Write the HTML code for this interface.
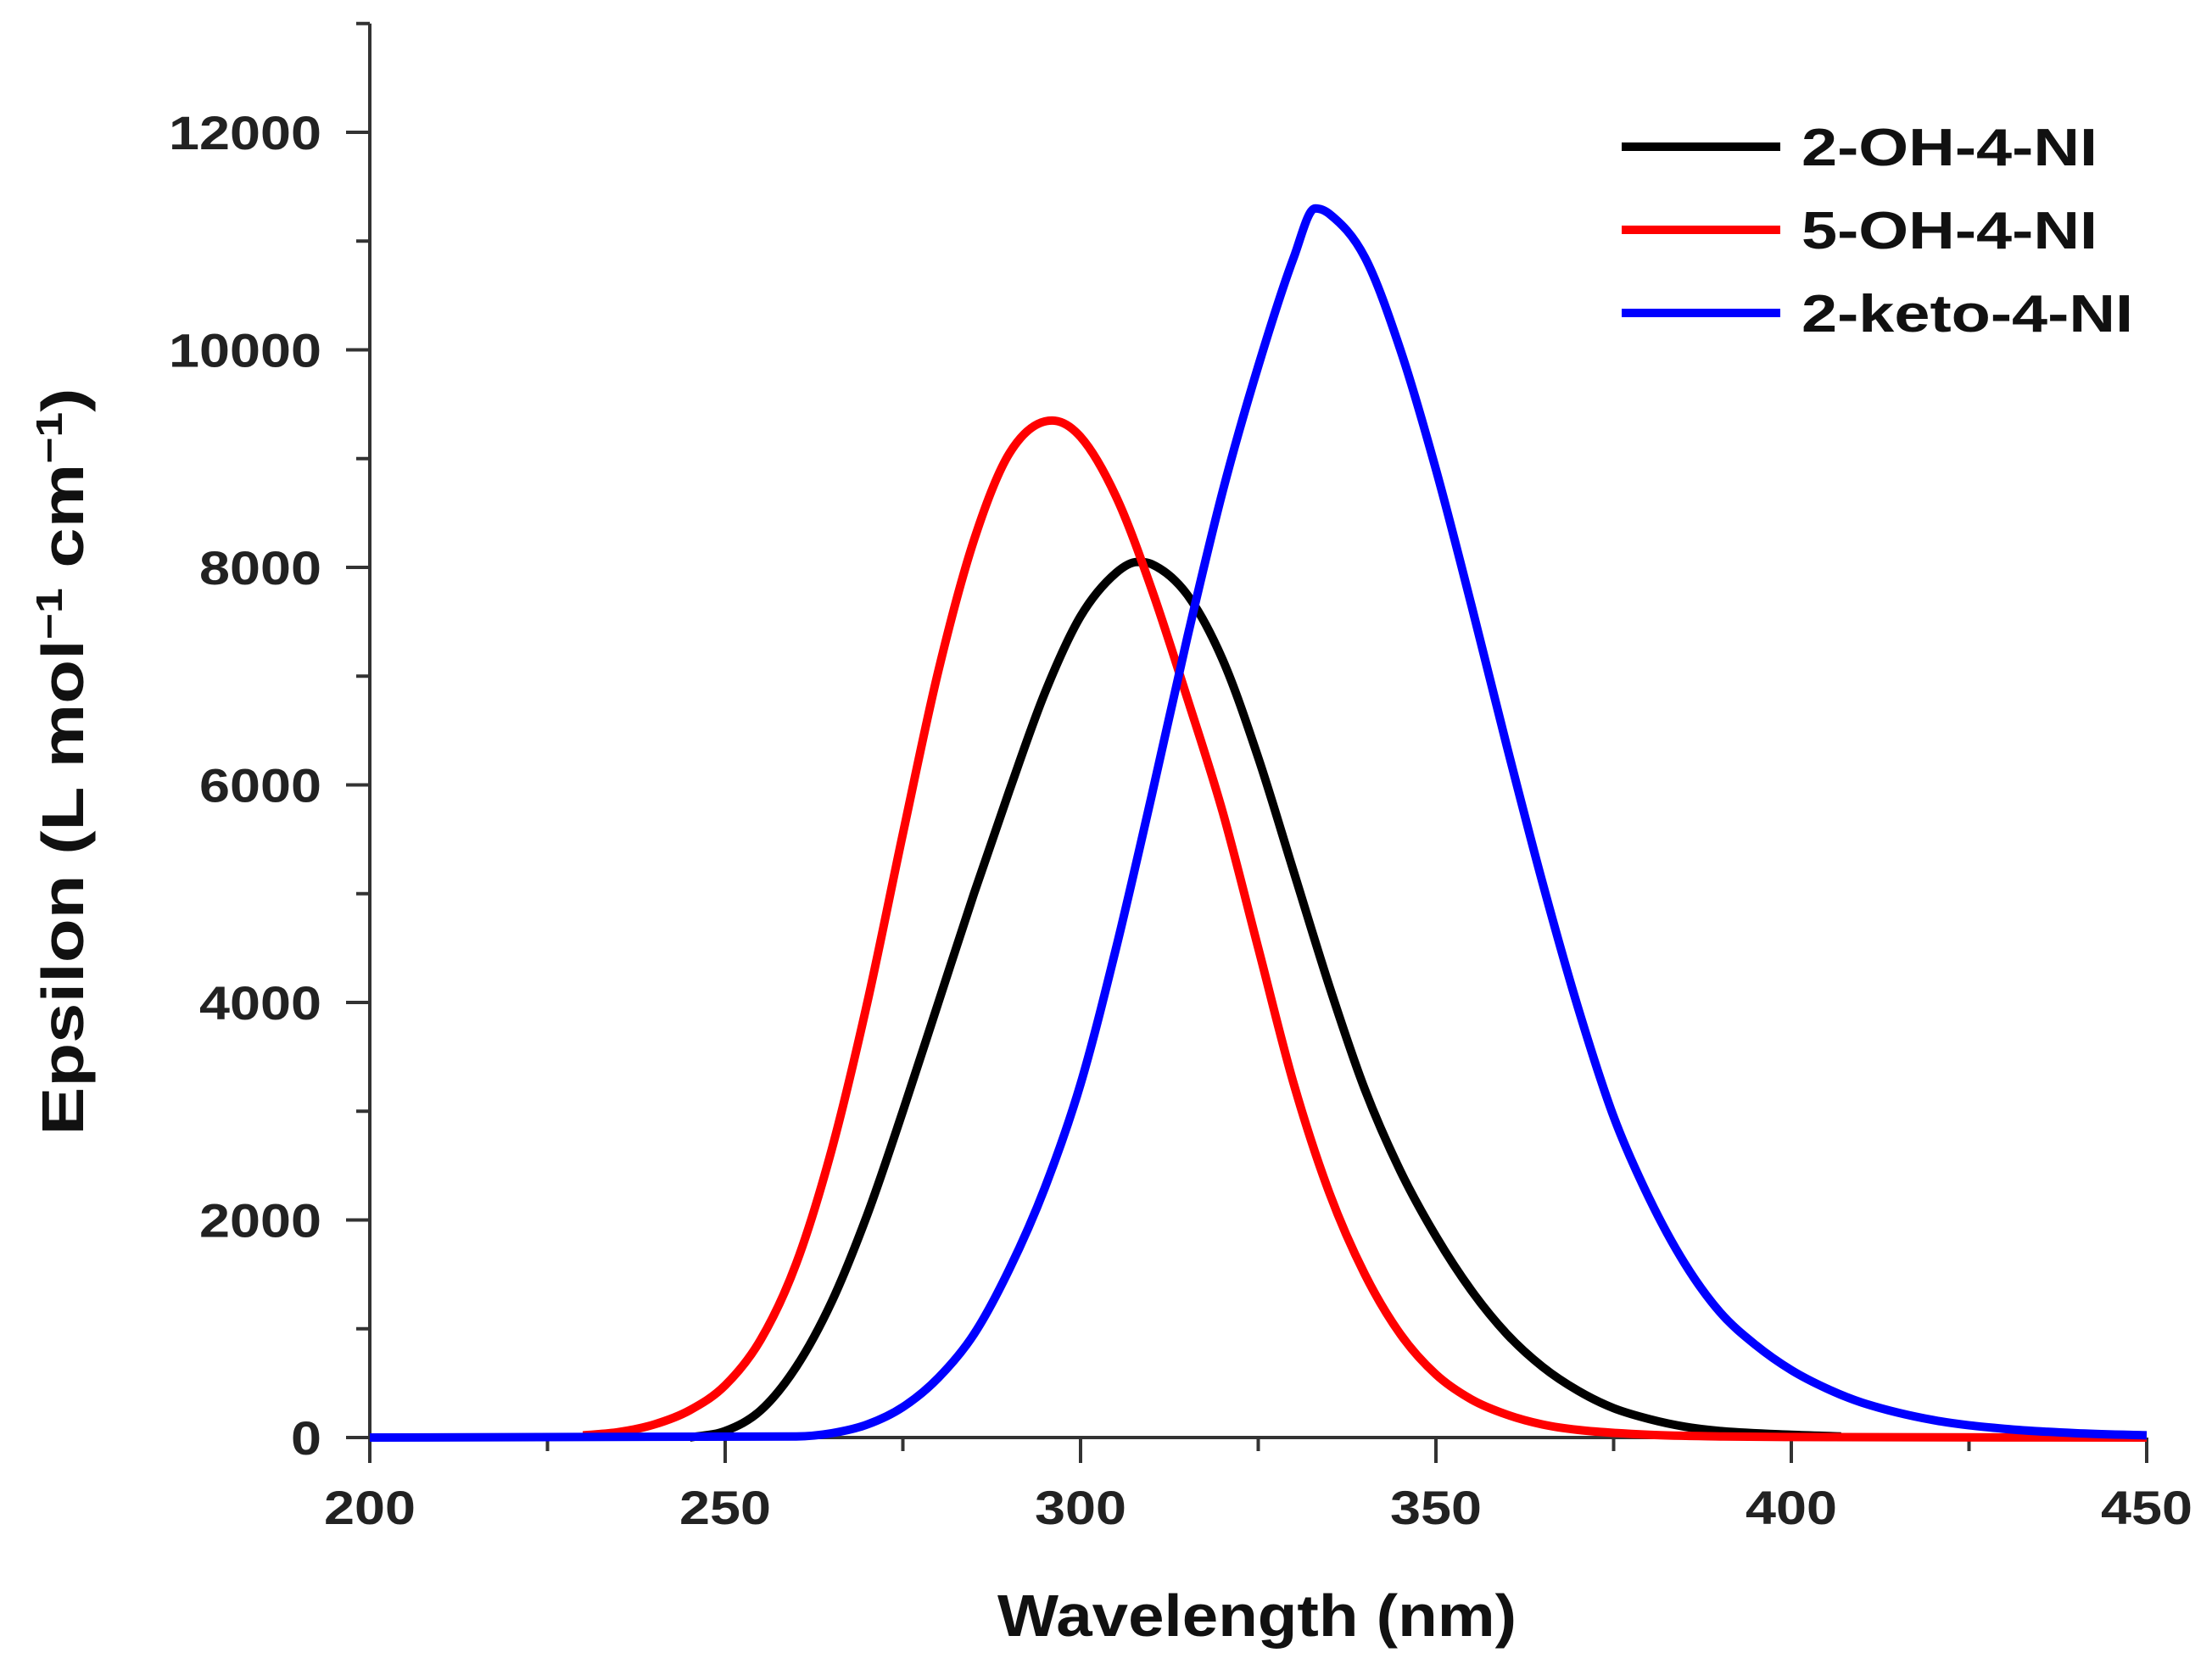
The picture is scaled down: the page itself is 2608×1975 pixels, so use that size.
<!DOCTYPE html>
<html><head><meta charset="utf-8"><style>
html,body{margin:0;padding:0;background:#fff}
svg{display:block}
text{font-family:"Liberation Sans",Arial,sans-serif;font-weight:bold}
</style></head><body>
<svg id="chart" width="2608" height="1975" viewBox="0 0 2608 1975">
<g id="axes"></g>
<g id="series"></g>
<g id="legend"></g>
<text x="1482" y="1929" font-size="70" text-anchor="middle" fill="#111" textLength="612" lengthAdjust="spacingAndGlyphs">Wavelength (nm)</text>
<text transform="translate(98,898) rotate(-90)" font-size="70" text-anchor="middle" fill="#111" textLength="881" lengthAdjust="spacingAndGlyphs">Epsilon (L mol<tspan font-size="44" dy="-25">−1</tspan><tspan dy="25"> cm</tspan><tspan font-size="44" dy="-25">−1</tspan><tspan dy="25">)</tspan></text>
</svg>
<script>
const xTicks=[200,250,300,350,400,450];
const yTicks=[0,2000,4000,6000,8000,10000,12000];
const seriesNames=["2-OH-4-NI","5-OH-4-NI","2-keto-4-NI"];
const seriesColors=["#000000","#ff0000","#0000ff"];
const blackX=[245,250,255,260,265,270,275,280,285,290,295,300,305,308,310,315,320,325,330,335,340,345,350,355,360,365,370,375,380,385,390,400,407];
const blackY=[0,60,250,650,1250,2050,3000,4000,5000,5950,6850,7550,7950,8050,8030,7750,7150,6250,5200,4150,3200,2450,1850,1350,950,650,430,270,170,100,60,25,10];
const redX=[230,235,240,245,250,255,260,265,270,275,280,285,290,296,300,305,310,315,320,325,330,335,340,345,350,355,360,365,370,380,390,400,450];
const redY=[20,50,120,250,480,900,1600,2650,4000,5550,7050,8250,9050,9350,9200,8650,7800,6800,5750,4500,3250,2250,1500,950,580,350,210,120,70,25,10,5,0];
const blueX=[200,260,265,270,275,280,285,290,295,300,305,310,315,320,325,330,333,335,340,345,350,355,360,365,370,375,380,385,390,395,400,405,410,420,430,440,450];
const blueY=[0,10,40,120,280,550,950,1550,2300,3250,4500,5900,7350,8700,9850,10850,11300,11250,10850,10000,8900,7650,6350,5100,3950,2950,2200,1600,1150,850,620,450,320,160,80,40,20];

const NS="http://www.w3.org/2000/svg";
const X0=436,X1=2531,Y0=1695,Ypx=256.5/2000;
function sx(v){return X0+(v-200)*(X1-X0)/250;}
function sy(v){return Y0-v*Ypx;}
function mk(tag,attrs,parent){const e=document.createElementNS(NS,tag);for(const k in attrs)e.setAttribute(k,attrs[k]);parent.appendChild(e);return e;}
const axes=document.getElementById('axes');
let e=mk('line',{x1:X0,y1:sy(13000),x2:X0,y2:Y0,stroke:'#333','stroke-width':4},axes);


e=mk('line',{x1:X0,y1:Y0,x2:X1,y2:Y0,stroke:'#333','stroke-width':4},axes);


for(let v=0;v<=13000;v+=1000){
  const major=v%2000===0;
  const t=mk('line',{x1:X0-(major?28:16),y1:sy(v),x2:X0,y2:sy(v),stroke:'#333','stroke-width':4},axes);
  
  
}
yTicks.forEach(v=>{
  const s=String(v);
  const t=mk('text',{x:X0-57,y:sy(v)+20,'font-size':56,'text-anchor':'end',fill:'#222',textLength:s.length*36,lengthAdjust:'spacingAndGlyphs'},axes);
  t.textContent=s;
  
  
});
for(let v=200;v<=450;v+=25){
  const major=v%50===0;
  const t=mk('line',{x1:sx(v),y1:Y0,x2:sx(v),y2:Y0+(major?30:16),stroke:'#333','stroke-width':4},axes);
  
  
}
xTicks.forEach(v=>{
  const t=mk('text',{x:sx(v),y:Y0+102,'font-size':56,'text-anchor':'middle',fill:'#222',textLength:108,lengthAdjust:'spacingAndGlyphs'},axes);
  t.textContent=v;
  
  
});
function monotonePath(xs,ys){
  const n=xs.length,px=xs.map(sx),py=ys.map(sy);
  const d=[],m=[];
  for(let i=0;i<n-1;i++)d.push((py[i+1]-py[i])/(px[i+1]-px[i]));
  m[0]=d[0];m[n-1]=d[n-2];
  for(let i=1;i<n-1;i++)m[i]=(d[i-1]*d[i]<=0)?0:(d[i-1]+d[i])/2;
  for(let i=0;i<n-1;i++){if(d[i]===0){m[i]=0;m[i+1]=0;continue;}const a=m[i]/d[i],b=m[i+1]/d[i],s=a*a+b*b;if(s>9){const t=3/Math.sqrt(s);m[i]=t*a*d[i];m[i+1]=t*b*d[i];}}
  let p='M'+px[0]+','+py[0];
  for(let i=0;i<n-1;i++){const h=(px[i+1]-px[i])/3;p+=' C'+(px[i]+h)+','+(py[i]+m[i]*h)+' '+(px[i+1]-h)+','+(py[i+1]-m[i+1]*h)+' '+px[i+1]+','+py[i+1];}
  return p;
}
const ser=document.getElementById('series');
const data=[[blackX,blackY],[redX,redY],[blueX,blueY]];
const names=['series-2-oh-4-ni','series-5-oh-4-ni','series-2-keto-4-ni'];
[0,1,2].forEach(i=>{
  const p=mk('path',{d:monotonePath(data[i][0],data[i][1]),fill:'none',stroke:seriesColors[i],'stroke-width':10,'stroke-linejoin':'round'},ser);
  
  
});
const leg=document.getElementById('legend');
const ly=[173,271,369];
const lw=[349,349,391];
[0,1,2].forEach(i=>{
  const l=mk('line',{x1:1912,y1:ly[i],x2:2099,y2:ly[i],stroke:seriesColors[i],'stroke-width':10},leg);
  
  
  const t=mk('text',{x:2124,y:ly[i]+22,'font-size':62,fill:'#111',textLength:lw[i],lengthAdjust:'spacingAndGlyphs'},leg);
  t.textContent=seriesNames[i];
  
  
});
</script>
</body></html>
